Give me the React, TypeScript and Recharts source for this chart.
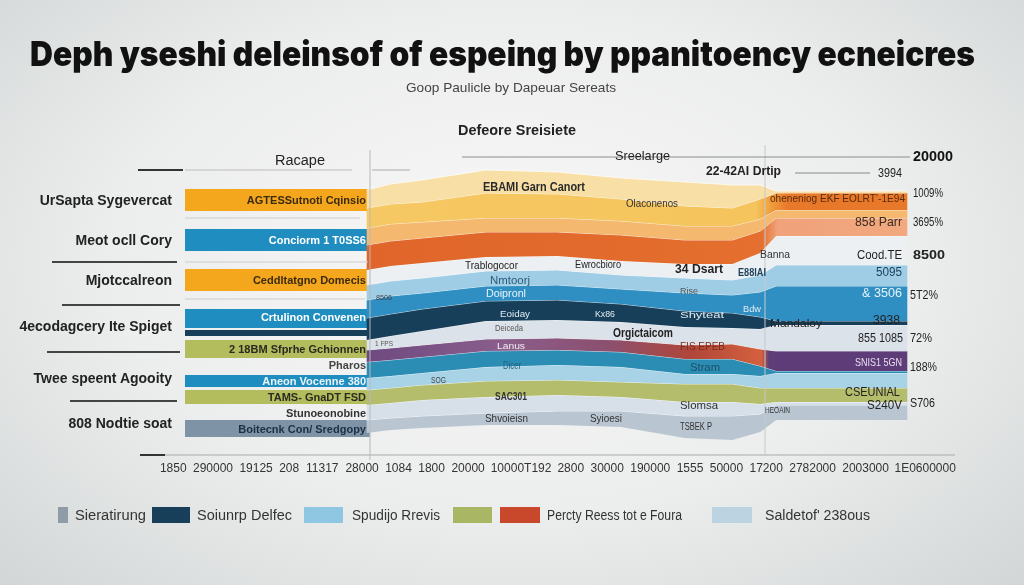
import React from 'react';
import { AreaChart, Area, XAxis, YAxis, BarChart, Bar, LabelList } from 'recharts';

const FONT = '"Liberation Sans", Arial, Helvetica, sans-serif';
const TITLE_FONT = 'Inter, Lato, "Open Sans", "Liberation Sans", sans-serif';

// ---------- text
const title = 'Deph yseshi deleinsof of espeing by ppanitoency ecneicres';
const subtitle = 'Goop Paulicle by Dapeuar Sereats';

// ---------- left bars
const topRows = ['AGTESSutnoti Cqinsio', 'Conciorm  1 T0SS6', 'Ceddltatgno Domecis'];
const topGroups = ['UrSapta Sygevercat', 'Meot ocll Cory', 'Mjotccalreon'];
const topValues = [100, 100, 100];

const bottomRows = [
  'Crtulinon   Convenen',
  '',
  '2 18BM Sfprhe Gchionnen',
  'Pharos',
  'Aneon Vocenne 380',
  'TAMS- GnaDT FSD',
  'Stunoeonobine',
  'Boitecnk Con/ Sredgopy',
];
const bottomGroups = ['4ecodagcery Ite Spiget', '', '', '', 'Twee speent Agooity', '', '', '808 Nodtie soat'];
const bottomValues = [100, 100, 100, 100, 100, 100, 100, 100];

// ---------- stacked bands (bottom to top)
const periods = [26, 29, 33, 41, 50, 58, 66, 72, 75.5, 77.5, 94];
const base = [22, 25, 27, 30, 30, 28, 17, 15, 23, 35, 35];
const slate = [13, 12, 12, 12, 14, 16, 22, 24, 18, 15, 15];
const mist = [15, 15, 16, 16, 16, 14, 14, 14, 10, 3, 3];
const olive = [15, 15, 15, 16, 15, 15, 18, 18, 16, 14, 14];
const sky = [12, 12, 12, 14, 15, 15, 10, 10, 12, 15, 15];
const teal = [16, 16, 16, 16, 15, 15, 15, 15, 10, 2, 2];
const plum = [12, 12, 12, 12, 12, 12, 14, 15, 17, 20, 20];
const fog = [10, 12, 14, 18, 18, 18, 18, 16, 20, 26, 26];
const navy = [22, 22, 22, 20, 20, 18, 16, 15, 12, 4, 4];
const blue = [18, 18, 16, 15, 15, 15, 18, 18, 25, 35, 35];
const ice = [15, 15, 15, 15, 15, 14, 15, 15, 17, 21, 21];
const pale = [15, 15, 15, 14, 14, 14, 14, 16, 22, 29, 29];
const orange = [25, 25, 25, 25, 24, 26, 24, 24, 22, 18, 18];
const peach = [17, 17, 16, 14, 14, 14, 14, 14, 12, 8, 8];
const gold = [20, 20, 20, 25, 24, 22, 20, 18, 20, 17, 17];
const cream = [18, 20, 22, 23, 22, 21, 24, 23, 14, 2, 2];

const tickLabels = [
  '1850', '290000', '19125', '208', '11317', '28000', '1084', '1800', '20000', '10000T192',
  '2800', '30000', '190000', '1555', '50000', '17200', '2782000', '2003000', '1E0600000',
];

const legendLabels = ['Sieratirung', 'Soiunrp Delfec', 'Spudijo Rrevis', '', 'Percty Reess tot e Foura', "Saldetof' 238ous"];

const rightNotes = ['1009%', '3695%', '8500', '5T2%', '72%', '188%', 'S706'];

// ---------- build tables
const bandValues: Record<string, number[]> = {
  base, slate, mist, olive, sky, teal, plum, fog, navy, blue, ice, pale, orange, peach, gold, cream,
};
const bandOrder = Object.keys(bandValues);
const areaData = periods.map((t, i) => {
  const row: Record<string, number> = { t };
  bandOrder.forEach((k) => (row[k] = bandValues[k][i]));
  return row;
});

const totalChars = tickLabels.reduce((s, l) => s + l.length, 0) + tickLabels.length - 1;
let acc = 0;
const tickPos = tickLabels.map((l) => {
  const c = ((acc + l.length / 2) / totalChars) * 100;
  acc += l.length + 1;
  return c;
});

const topData = topRows.map((label, i) => ({ row: `t${i}`, value: topValues[i], label }));
const bottomData = bottomRows.map((label, i) => ({ row: `b${i}`, value: bottomValues[i], label }));

// ---------- styles
const bandFill: Record<string, string> = {
  base: 'none',
  slate: '#b9c6d2',
  mist: '#d7e0e8',
  olive: '#b4bd6c',
  sky: '#a8d3e6',
  teal: '#2b8db4',
  plum: 'url(#plumGrad)',
  fog: '#dce2e9',
  navy: '#173f5a',
  blue: '#2f8fc3',
  ice: '#9fcde6',
  pale: '#edf0f2',
  orange: 'url(#orangeGrad)',
  peach: '#f4b86e',
  gold: 'url(#goldGrad)',
  cream: '#f8dfa6',
};

const topHeights = [22, 22, 22];
const topColors = ['#f4a71c', '#1f8dc0', '#f4a71c'];
const topText = ['#3a2a10', '#ffffff', '#3a2a10'];
const bottomHeights = [22, 6, 18, 0, 12, 14, 0, 18];
const bottomColors = ['#1f8dc0', '#173f5a', '#b3bd5e', 'none', '#1f8dc0', '#b3bd5e', 'none', '#7f93a6'];
const bottomText = ['#ffffff', '#ffffff', '#2a2a20', '#444', '#e8f4fa', '#2a2a20', '#333', '#1d2f45'];
const bottomShift = [9, 0, 0, 0, -3, 0, 0, -6];

const legendSwatch = [
  { x: 58, w: 10, c: '#8f9ba6' },
  { x: 152, w: 38, c: '#173f5a' },
  { x: 304, w: 39, c: '#8fc6e2' },
  { x: 453, w: 39, c: '#a9b765' },
  { x: 500, w: 40, c: '#c9482c' },
  { x: 712, w: 40, c: '#bcd4e2' },
];
const legendText = [
  { x: 75, w: 71 },
  { x: 197, w: 95 },
  { x: 352, w: 88 },
  { x: 0, w: 0 },
  { x: 547, w: 135 },
  { x: 765, w: 105 },
];
const rightNotePos = [
  { x: 913, y: 197, w: 30, b: false },
  { x: 913, y: 226, w: 30, b: false },
  { x: 913, y: 259, w: 32, b: true },
  { x: 910, y: 299, w: 28, b: false },
  { x: 910, y: 342, w: 22, b: false },
  { x: 910, y: 371, w: 27, b: false },
  { x: 910, y: 407, w: 25, b: false },
];

type Note = { t: string; x: number; y: number; w: number; s: number; c: string; b?: boolean };
const notes: Note[] = [
  { t: 'Racape', x: 275, y: 165, w: 50, s: 14, c: '#222' },
  { t: 'Defeore Sreisiete', x: 458, y: 135, w: 118, s: 14, c: '#222', b: true },
  { t: 'Sreelarge', x: 615, y: 160, w: 55, s: 13, c: '#222' },
  { t: '22-42AI Drtip', x: 706, y: 175, w: 75, s: 13, c: '#222', b: true },
  { t: '3994', x: 878, y: 177, w: 24, s: 12, c: '#222' },
  { t: '20000', x: 913, y: 161, w: 40, s: 14, c: '#111', b: true },
  { t: 'EBAMI Garn Canort', x: 483, y: 191, w: 102, s: 13, c: '#2a2a2a', b: true },
  { t: 'Olaconenos', x: 626, y: 207, w: 52, s: 11, c: '#333' },
  { t: 'Trablogocor', x: 465, y: 269, w: 53, s: 11, c: '#222' },
  { t: 'Ewrocbioro', x: 575, y: 268, w: 46, s: 11, c: '#222' },
  { t: '34 Dsart', x: 675, y: 273, w: 48, s: 13, c: '#222', b: true },
  { t: 'Nmtoorj', x: 490, y: 284, w: 40, s: 10, c: '#2b5c7a' },
  { t: 'Doipronl', x: 486, y: 297, w: 40, s: 10, c: '#e8f4fa' },
  { t: 'Eoiday', x: 500, y: 317, w: 30, s: 9, c: '#e0ecf3' },
  { t: 'Kx86', x: 595, y: 317, w: 20, s: 9, c: '#e0ecf3' },
  { t: 'Shyteat', x: 680, y: 318, w: 44, s: 9, c: '#e0ecf3' },
  { t: 'Bdw', x: 743, y: 312, w: 18, s: 9, c: '#e0ecf3' },
  { t: 'Deiceda', x: 495, y: 331, w: 28, s: 9, c: '#555' },
  { t: 'Orgictaicom', x: 613, y: 337, w: 60, s: 12, c: '#222', b: true },
  { t: 'Mandaloy', x: 770, y: 327, w: 52, s: 11, c: '#222' },
  { t: 'Lanus', x: 497, y: 349, w: 28, s: 9, c: '#f4eef4' },
  { t: 'FIS EPEB', x: 680, y: 350, w: 45, s: 11, c: '#7a2c1c' },
  { t: 'Dicer', x: 503, y: 369, w: 18, s: 10, c: '#1d5f80' },
  { t: 'Stram', x: 690, y: 371, w: 30, s: 11, c: '#1d4f66' },
  { t: 'SOG', x: 431, y: 383, w: 15, s: 9, c: '#444' },
  { t: 'SAC301', x: 495, y: 400, w: 32, s: 11, c: '#333', b: true },
  { t: 'Slomsa', x: 680, y: 409, w: 38, s: 11, c: '#333' },
  { t: 'Shvoieisn', x: 485, y: 422, w: 43, s: 10, c: '#333' },
  { t: 'Syioesi', x: 590, y: 422, w: 32, s: 10, c: '#333' },
  { t: 'TSBEK P', x: 680, y: 430, w: 32, s: 10, c: '#333' },
  { t: 'HEOAIN', x: 765, y: 413, w: 25, s: 9, c: '#333' },
  { t: 'Rise', x: 680, y: 294, w: 18, s: 9, c: '#555' },
  { t: 'E88IAI', x: 738, y: 276, w: 28, s: 10, c: '#1a3f5a', b: true },
  { t: 'Banna', x: 760, y: 258, w: 30, s: 10, c: '#333' },
  { t: 'oheneniog EKF EOLRT\u2019-1E94', x: 770, y: 202, w: 135, s: 11, c: '#5a2a0a' },
  { t: '858 Parr', x: 855, y: 226, w: 47, s: 12, c: '#3a2a20' },
  { t: 'Cood.TE', x: 857, y: 259, w: 45, s: 12, c: '#222' },
  { t: '5095', x: 876, y: 276, w: 26, s: 12, c: '#1a3f5a' },
  { t: '& 3506', x: 862, y: 297, w: 40, s: 12, c: '#e8f4fa' },
  { t: '3938', x: 873, y: 324, w: 27, s: 12, c: '#222' },
  { t: '855 1085', x: 858, y: 342, w: 45, s: 12, c: '#222' },
  { t: 'SNIS1 5GN', x: 855, y: 366, w: 47, s: 11, c: '#e9e0f2' },
  { t: 'CSEUNIAL', x: 845, y: 396, w: 55, s: 12, c: '#222' },
  { t: 'S240V', x: 867, y: 409, w: 35, s: 12, c: '#222' },
  { t: '8506', x: 376, y: 300, w: 16, s: 8, c: '#444' },
  { t: '1 FPS', x: 375, y: 346, w: 18, s: 8, c: '#555' },
];

const lines = [
  { x1: 370, y1: 150, x2: 370, y2: 460, c: '#b5b9bd', w: 1 },
  { x1: 765, y1: 145, x2: 765, y2: 455, c: '#c5c8cb', w: 1 },
  { x1: 462, y1: 157, x2: 910, y2: 157, c: '#8a8d90', w: 1 },
  { x1: 795, y1: 173, x2: 870, y2: 173, c: '#888', w: 1 },
  { x1: 372, y1: 170, x2: 410, y2: 170, c: '#aaa', w: 1 },
  { x1: 138, y1: 170, x2: 183, y2: 170, c: '#333', w: 2 },
  { x1: 185, y1: 170, x2: 352, y2: 170, c: '#bbb', w: 1 },
  { x1: 185, y1: 218, x2: 360, y2: 218, c: '#ccc', w: 1 },
  { x1: 52, y1: 262, x2: 177, y2: 262, c: '#444', w: 2 },
  { x1: 185, y1: 262, x2: 368, y2: 262, c: '#ccc', w: 1 },
  { x1: 185, y1: 299, x2: 365, y2: 299, c: '#ccc', w: 1 },
  { x1: 62, y1: 305, x2: 180, y2: 305, c: '#444', w: 2 },
  { x1: 47, y1: 352, x2: 180, y2: 352, c: '#444', w: 2 },
  { x1: 70, y1: 401, x2: 177, y2: 401, c: '#444', w: 2 },
  { x1: 140, y1: 455, x2: 165, y2: 455, c: '#333', w: 2 },
];

const leftTick = (groups: string[], shifts: number[]) => (props: any) => {
  const i = props.index ?? props.payload?.index ?? 0;
  const text = groups[i];
  if (!text) return <g />;
  return (
    <text x={172} y={props.y + shifts[i]} textAnchor="end" dominantBaseline="central"
      fontFamily={FONT} fontSize={14} fontWeight="bold" fill="#222">
      {text}
    </text>
  );
};

const barShape = (heights: number[], colors: string[]) => (p: any) => {
  const h = heights[p.index];
  if (!h) return <g />;
  return <rect x={p.x} y={p.y + p.height / 2 - h / 2} width={p.width} height={h} fill={colors[p.index]} />;
};

const barLabel = (rows: string[], colors: string[]) => (p: any) => {
  if (!p.value) return null;
  const i = typeof p.index === 'number' ? p.index : rows.indexOf(p.value);
  const vb = p.viewBox || p;
  return (
    <text x={vb.x + vb.width - 4} y={vb.y + vb.height / 2} textAnchor="end" dominantBaseline="central"
      fontFamily={FONT} fontSize={11} fontWeight="bold" fill={colors[i]}>
      {p.value}
    </text>
  );
};

export default function App() {
  return (
    <div
      style={{
        position: 'fixed', left: 0, top: 0, width: 1024, height: 585, overflow: 'hidden',
        background: 'radial-gradient(ellipse at 50% 45%, #f7f7f6 0%, #eceeed 55%, #d2d6d6 100%)',
        fontFamily: FONT,
      }}
    >
      <div style={{ position: 'absolute', left: 0, top: 180 }}>
        <BarChart width={372} height={120} data={topData} layout="vertical" barCategoryGap={0}
          margin={{ top: 0, right: 2, bottom: 0, left: 0 }}>
          <XAxis type="number" domain={[0, 100]} hide />
          <YAxis type="category" dataKey="row" width={185} axisLine={false} tickLine={false}
            tick={leftTick(topGroups, [0, 0, 0])} interval={0} />
          <Bar dataKey="value" isAnimationActive={false} shape={barShape(topHeights, topColors)}>
            <LabelList dataKey="label" content={barLabel(topRows, topText)} />
          </Bar>
        </BarChart>
      </div>

      <div style={{ position: 'absolute', left: 0, top: 309 }}>
        <BarChart width={372} height={128} data={bottomData} layout="vertical" barCategoryGap={0}
          margin={{ top: 0, right: 2, bottom: 0, left: 0 }}>
          <XAxis type="number" domain={[0, 100]} hide />
          <YAxis type="category" dataKey="row" width={185} axisLine={false} tickLine={false}
            tick={leftTick(bottomGroups, bottomShift)} interval={0} />
          <Bar dataKey="value" isAnimationActive={false} shape={barShape(bottomHeights, bottomColors)}>
            <LabelList dataKey="label" content={barLabel(bottomRows, bottomText)} />
          </Bar>
        </BarChart>
      </div>

      <div style={{ position: 'absolute', left: 150, top: 140 }}>
        <AreaChart width={820} height={340} data={areaData} margin={{ top: 10, right: 15, bottom: 0, left: 10 }}>
          <defs>
            <linearGradient id="plumGrad" x1="0" y1="0" x2="1" y2="0">
              <stop offset="0" stopColor="#6e4a80" />
              <stop offset="0.25" stopColor="#8a5e8c" />
              <stop offset="0.45" stopColor="#8c4f6e" />
              <stop offset="0.6" stopColor="#b0463a" />
              <stop offset="0.73" stopColor="#d4603e" />
              <stop offset="0.745" stopColor="#5d3c78" />
              <stop offset="1" stopColor="#5d3c78" />
            </linearGradient>
            <linearGradient id="orangeGrad" x1="0" y1="0" x2="1" y2="0">
              <stop offset="0" stopColor="#e0652a" />
              <stop offset="0.73" stopColor="#e46f2e" />
              <stop offset="0.76" stopColor="#f0a27a" />
              <stop offset="1" stopColor="#f2a97e" />
            </linearGradient>
            <linearGradient id="goldGrad" x1="0" y1="0" x2="1" y2="0">
              <stop offset="0" stopColor="#f6c863" />
              <stop offset="0.72" stopColor="#f5c45c" />
              <stop offset="0.75" stopColor="#ef9a3a" />
              <stop offset="0.78" stopColor="#e8782a" />
              <stop offset="1" stopColor="#e8782a" />
            </linearGradient>
          </defs>
          <XAxis type="number" dataKey="t" domain={[0, 100]} ticks={tickPos} interval={0}
            tickFormatter={(_v: number, i: number) => tickLabels[i]} height={25}
            axisLine={{ stroke: '#a7abae' }} tickLine={false}
            tick={{ fontSize: 12, fill: '#333', fontFamily: FONT }} />
          <YAxis hide domain={[0, 305]} />
          {bandOrder.map((k) => (
            <Area key={k} dataKey={k} stackId="bands" type="linear" fill={bandFill[k]} fillOpacity={1}
              stroke={k === 'base' ? 'none' : '#ffffff'} strokeWidth={k === 'base' ? 0 : 1} strokeOpacity={0.7}
              dot={false} activeDot={false} isAnimationActive={false} />
          ))}
        </AreaChart>
      </div>

      <svg width={1024} height={585} style={{ position: 'absolute', left: 0, top: 0, pointerEvents: 'none' }}>
        <text x={30} y={66} fontSize={34} fontWeight={900} fill="#111" fontFamily={TITLE_FONT}
          textLength={945} lengthAdjust="spacingAndGlyphs">{title}</text>
        <text x={406} y={92} fontSize={13} fill="#444" fontFamily={FONT}
          textLength={210} lengthAdjust="spacingAndGlyphs">{subtitle}</text>

        {lines.map((l, i) => (
          <line key={i} x1={l.x1} y1={l.y1} x2={l.x2} y2={l.y2} stroke={l.c} strokeWidth={l.w} />
        ))}

        {notes.map((n, i) => (
          <text key={i} x={n.x} y={n.y} fontSize={n.s} fill={n.c} fontWeight={n.b ? 'bold' : 'normal'}
            fontFamily={FONT} textLength={n.w} lengthAdjust="spacingAndGlyphs">{n.t}</text>
        ))}

        {rightNotes.map((t, i) => (
          <text key={t} x={rightNotePos[i].x} y={rightNotePos[i].y} fontSize={13} fill="#222"
            fontWeight={rightNotePos[i].b ? 'bold' : 'normal'} fontFamily={FONT}
            textLength={rightNotePos[i].w} lengthAdjust="spacingAndGlyphs">{t}</text>
        ))}

        {legendLabels.map((t, i) => (
          <g key={i}>
            <rect x={legendSwatch[i].x} y={507} width={legendSwatch[i].w} height={16} fill={legendSwatch[i].c} />
            {t && (
              <text x={legendText[i].x} y={520} fontSize={14} fill="#333" fontFamily={FONT}
                textLength={legendText[i].w} lengthAdjust="spacingAndGlyphs">{t}</text>
            )}
          </g>
        ))}
      </svg>
    </div>
  );
}
